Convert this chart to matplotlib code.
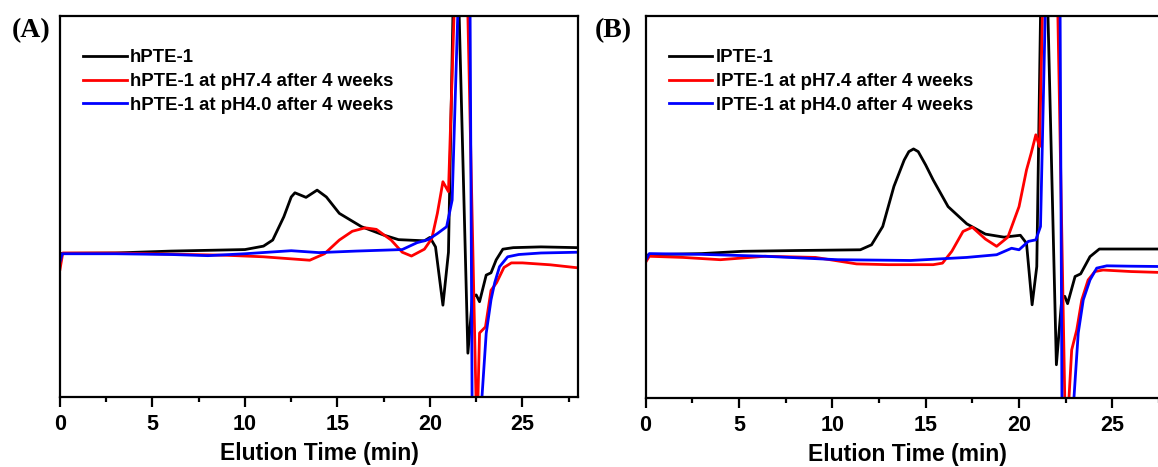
import matplotlib.pyplot as plt
from matplotlib.ticker import MultipleLocator

plt.rcParams['font.family'] = ['Liberation Sans', 'DejaVu Sans']
plt.rcParams['font.weight'] = 'bold'

# Panel A: hPTE-1 (elution time in min, detector signal in arbitrary units)
a_black_t = [0, 0.1, 3, 6, 9, 10, 11, 11.5, 12.1, 12.5, 12.7, 13.3, 13.9, 14.4, 15.1, 16.3,
             17.5, 18.3, 19.7, 20.0, 20.3, 20.7, 21.0, 21.24, 21.4, 21.58, 22.05, 22.3, 22.5,
             22.68, 23.04, 23.3, 23.58, 23.94, 24.5, 26, 28]
a_black_v = [36.5, 37.7, 37.8, 38.3, 38.6, 38.7, 39.6, 41.2, 47.3, 52.5, 53.6, 52.4, 54.3,
             52.5, 48.2, 44.7, 42.5, 41.3, 41.0, 41.9, 39.4, 24.1, 38.0, 100, 125, 100, 11.5,
             26.3, 26.8, 25.0, 32.0, 32.6, 36.0, 38.8, 39.2, 39.4, 39.2]

a_red_t = [0, 0.15, 3, 6, 9, 11, 13.5, 14.3, 15.1, 15.8, 16.5, 17.1, 17.9, 18.5, 19.0, 19.7,
           20.1, 20.4, 20.7, 21.0, 21.3, 21.7, 22.05, 22.5, 22.58, 22.68, 23.0, 23.3, 23.6,
           24.0, 24.4, 25, 26.5, 28]
a_red_v = [33.5, 37.8, 37.8, 37.5, 37.2, 36.8, 35.9, 37.6, 41.2, 43.5, 44.4, 44.0, 41.2,
           38.0, 37.0, 38.8, 41.6, 48.2, 56.5, 53.9, 100, 150, 100, -3, -3, 16.8, 18.4,
           28.0, 30.0, 34.0, 35.2, 35.2, 34.7, 33.9]

a_blue_t = [0, 0.12, 3, 6, 8, 10, 12.5, 14, 16, 18.5, 19.3, 19.9, 20.4, 20.9, 21.2, 21.5,
            21.8, 22.17, 22.28, 22.5, 22.77, 23.04, 23.3, 23.5, 23.76, 24.2, 24.8, 26, 28]
a_blue_v = [35.5, 37.6, 37.6, 37.4, 37.1, 37.6, 38.4, 37.9, 38.3, 38.7, 40.5, 41.3, 42.9,
            44.7, 51.7, 100, 150, 100, -3, -10, -3, 16.7, 25.5, 30.0, 34.2, 36.8, 37.4,
            37.8, 38.0]

# Panel B: lPTE-1
b_black_t = [0, 0.15, 3, 5.2, 8, 11.5, 12.1, 12.7, 13.3, 13.85, 14.1, 14.35, 14.6, 15.0,
             15.4, 15.8, 16.2, 17.2, 18.2, 19.2, 20.07, 20.4, 20.7, 20.95, 21.15, 21.35,
             21.55, 22.0, 22.3, 22.45, 22.6, 23.0, 23.3, 23.8, 24.3, 26, 28]
b_black_v = [36.5, 37.5, 37.8, 38.4, 38.6, 38.8, 40.1, 44.9, 55.4, 62.3, 64.5, 65.2, 64.5,
             61.0, 57.1, 53.6, 50.1, 45.6, 42.9, 42.1, 42.6, 40.5, 24.4, 34.4, 100, 125, 100,
             8.7, 26.6, 26.6, 24.7, 31.8, 32.5, 37.0, 39.0, 39.0, 39.0]

b_red_t = [0, 0.2, 2, 4, 6.4, 9.1, 11.3, 13, 15.4, 15.9, 16.4, 17.0, 17.5, 18.2, 18.8, 19.4,
           20.0, 20.4, 20.65, 20.9, 21.1, 21.25, 21.6, 22.08, 22.46, 22.55, 22.64, 22.82,
           23.09, 23.36, 23.7, 24.06, 24.5, 26, 28]
b_red_v = [35.5, 37.1, 36.8, 36.2, 37.1, 36.8, 35.1, 34.9, 34.9, 35.3, 38.4, 43.6, 44.7,
           41.6, 39.7, 42.1, 50.1, 59.7, 64.1, 68.9, 65.8, 100, 150, 100, -3, -5, -3,
           12.6, 17.8, 25.7, 30.9, 33.1, 33.5, 33.1, 32.8]

b_blue_t = [0, 0.2, 3, 6.4, 10.3, 14.2, 17.2, 18.8, 19.6, 20.0, 20.5, 20.9, 21.15, 21.4,
            21.8, 22.2, 22.3, 22.6, 22.9, 23.17, 23.44, 23.8, 24.16, 24.7, 26, 28]
b_blue_v = [36.0, 37.8, 37.6, 37.1, 36.2, 36.0, 36.8, 37.5, 39.2, 38.8, 41.0, 41.4, 44.9,
            100, 150, 100, -3, -10, -3, 17.0, 25.7, 30.9, 34.0, 34.6, 34.5, 34.4]

labels_a = ['hPTE-1', 'hPTE-1 at pH7.4 after 4 weeks', 'hPTE-1 at pH4.0 after 4 weeks']
labels_b = ['lPTE-1', 'lPTE-1 at pH7.4 after 4 weeks', 'lPTE-1 at pH4.0 after 4 weeks']
colors = ['black', '#ff0000', '#0000ff']

fig = plt.figure(figsize=(11.58, 4.67), dpi=100)
ax_a = fig.add_axes([0.0518, 0.1499, 0.4473, 0.8158])
ax_b = fig.add_axes([0.5575, 0.1478, 0.4515, 0.8179])

panels = [
    (ax_a, [(a_black_t, a_black_v), (a_red_t, a_red_v), (a_blue_t, a_blue_v)], labels_a),
    (ax_b, [(b_black_t, b_black_v), (b_red_t, b_red_v), (b_blue_t, b_blue_v)], labels_b),
]

for ax, series, labels in panels:
    for (t, v), lab, c in zip(series, labels, colors):
        ax.plot(t, v, color=c, lw=2.0, label=lab, solid_joinstyle='round')
    ax.set_xlim(0, 28)
    ax.set_ylim(0, 100)
    ax.set_yticks([])
    ax.xaxis.set_major_locator(MultipleLocator(5))
    ax.xaxis.set_minor_locator(MultipleLocator(2.5))
    ax.tick_params(axis='x', which='major', direction='out', length=7, width=1.6,
                   labelsize=15.5, pad=5.5)
    ax.tick_params(axis='x', which='minor', direction='out', length=3.5, width=1.6)
    for sp in ax.spines.values():
        sp.set_linewidth(1.6)
    ax.set_xlabel('Elution Time (min)', fontsize=16.5, fontweight='bold', labelpad=5)
    ax.legend(loc='upper left', bbox_to_anchor=(0.03, 0.932), frameon=False, fontsize=13.4,
              handlelength=2.35, handletextpad=0.17, labelspacing=0.36, borderaxespad=0)

fig.text(0.010, 0.935, '(A)', family=['Liberation Serif', 'DejaVu Serif'],
         fontsize=20, fontweight='bold', va='center')
fig.text(0.514, 0.935, '(B)', family=['Liberation Serif', 'DejaVu Serif'],
         fontsize=20, fontweight='bold', va='center')

fig.savefig('out.png', dpi=100)
